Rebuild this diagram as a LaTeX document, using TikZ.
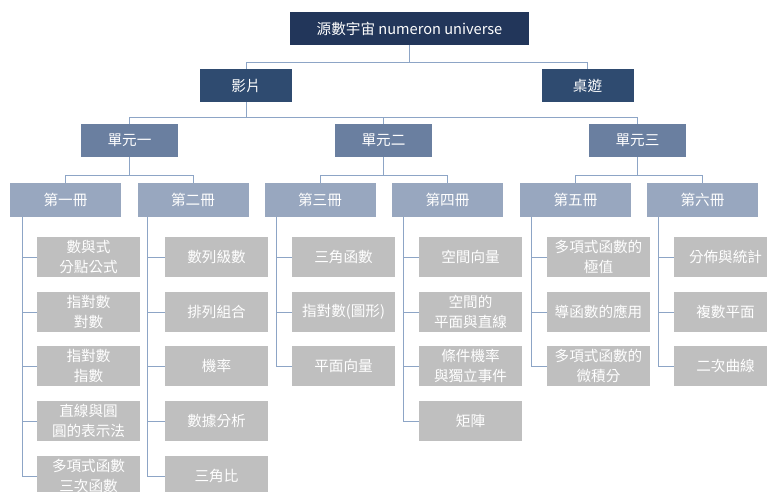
\documentclass[tikz,border=0pt]{standalone}
\usepackage{fontspec}
\newfontfamily\cjk{Noto Sans CJK TC}
\definecolor{cRoot}{HTML}{22365A}
\definecolor{cTop}{HTML}{2F4B70}
\definecolor{cUnit}{HTML}{6A7FA0}
\definecolor{cBook}{HTML}{98A7BF}
\definecolor{cLeaf}{HTML}{BFBFBF}
\definecolor{cLine}{HTML}{8DA5C6}
\tikzset{
  box/.style={inner sep=0pt, outer sep=0pt, text=white, align=center,
    font=\cjk\fontsize{14.6}{19.5}\selectfont},
  rootbox/.style={box, fill=cRoot, minimum width=239pt, minimum height=33pt},
  topbox/.style={box, fill=cTop, minimum width=92pt, minimum height=33pt},
  unitbox/.style={box, fill=cUnit, minimum width=97pt, minimum height=33pt},
  bookbox/.style={box, fill=cBook, minimum width=111pt, minimum height=34pt},
  leafbox/.style={box, fill=cLeaf, minimum width=103pt, minimum height=40pt},
  link/.style={draw=cLine, line width=1pt}
}
\begin{document}
\begin{tikzpicture}[x=1pt,y=-1pt]
\useasboundingbox (0,0) rectangle (767,491);
\fill[white] (0,0) rectangle (767,491);
% root and top level
\node[rootbox] (root) at (409.5,28.5) {源數宇宙 numeron universe};
\node[topbox] (film) at (246,85.5) {影片};
\node[topbox] (game) at (587.5,85.5) {桌遊};
% units
\node[unitbox] (u1) at (129.5,140.5) {單元一};
\node[unitbox] (u2) at (383.5,140.5) {單元二};
\node[unitbox] (u3) at (637.5,140.5) {單元三};
% books
\node[bookbox] (b1) at (65.5,200) {第一冊};
\node[bookbox] (b2) at (193,200) {第二冊};
\node[bookbox] (b3) at (320,200) {第三冊};
\node[bookbox] (b4) at (447.5,200) {第四冊};
\node[bookbox] (b5) at (575.5,200) {第五冊};
\node[bookbox] (b6) at (702.5,200) {第六冊};
% leaves book 1
\node[leafbox] (l11) at (88.5,257) {數與式\\分點公式};
\node[leafbox] (l12) at (88.5,312) {指對數\\對數};
\node[leafbox] (l13) at (88.5,366) {指對數\\指數};
\node[leafbox] (l14) at (88.5,421) {直線與圓\\圓的表示法};
\node[leafbox] (l15) at (88.5,476) {多項式函數\\三次函數};
% book 2
\node[leafbox] (l21) at (216.5,257) {數列級數};
\node[leafbox] (l22) at (216.5,312) {排列組合};
\node[leafbox] (l23) at (216.5,366) {機率};
\node[leafbox] (l24) at (216.5,421) {數據分析};
\node[leafbox] (l25) at (216.5,476) {三角比};
% book 3
\node[leafbox] (l31) at (343.5,257) {三角函數};
\node[leafbox] (l32) at (343.5,312) {指對數(圖形)};
\node[leafbox] (l33) at (343.5,366) {平面向量};
% book 4
\node[leafbox] (l41) at (470.5,257) {空間向量};
\node[leafbox] (l42) at (470.5,312) {空間的\\平面與直線};
\node[leafbox] (l43) at (470.5,366) {條件機率\\與獨立事件};
\node[leafbox] (l44) at (470.5,421) {矩陣};
% book 5
\node[leafbox] (l51) at (598.5,257) {多項式函數的\\極值};
\node[leafbox] (l52) at (598.5,312) {導函數的應用};
\node[leafbox] (l53) at (598.5,366) {多項式函數的\\微積分};
% book 6
\node[leafbox] (l61) at (725.5,257) {分佈與統計};
\node[leafbox] (l62) at (725.5,312) {複數平面};
\node[leafbox] (l63) at (725.5,366) {二次曲線};
% junctions
\coordinate (j0) at (409.5,62.5);
\coordinate (j1) at (246,117);
\coordinate (j2) at (129.5,175);
\coordinate (j3) at (383.5,175);
\coordinate (j4) at (637.5,175);
% connectors
\draw[link] (root.south) -- (j0) -| (film.north);
\draw[link] (j0) -| (game.north);
\draw[link] (film.south) -- (j1) -| (u1.north);
\draw[link] (j1) -| (u2.north);
\draw[link] (j1) -| (u3.north);
\draw[link] (u1.south) -- (j2) -| (b1.north);
\draw[link] (j2) -| (b2.north);
\draw[link] (u2.south) -- (j3) -| (b3.north);
\draw[link] (j3) -| (b4.north);
\draw[link] (u3.south) -- (j4) -| (b5.north);
\draw[link] (j4) -| (b6.north);
\foreach \b/\s/\n in {1/12/5, 2/10/5, 3/12/3, 4/11/4, 5/11/3, 6/11/3}{
  \foreach \i in {1,...,\n}{
    \draw[link] ([xshift=\s pt]b\b.south west) |- (l\b\i.west);
  }
}
\end{tikzpicture}
\end{document}
